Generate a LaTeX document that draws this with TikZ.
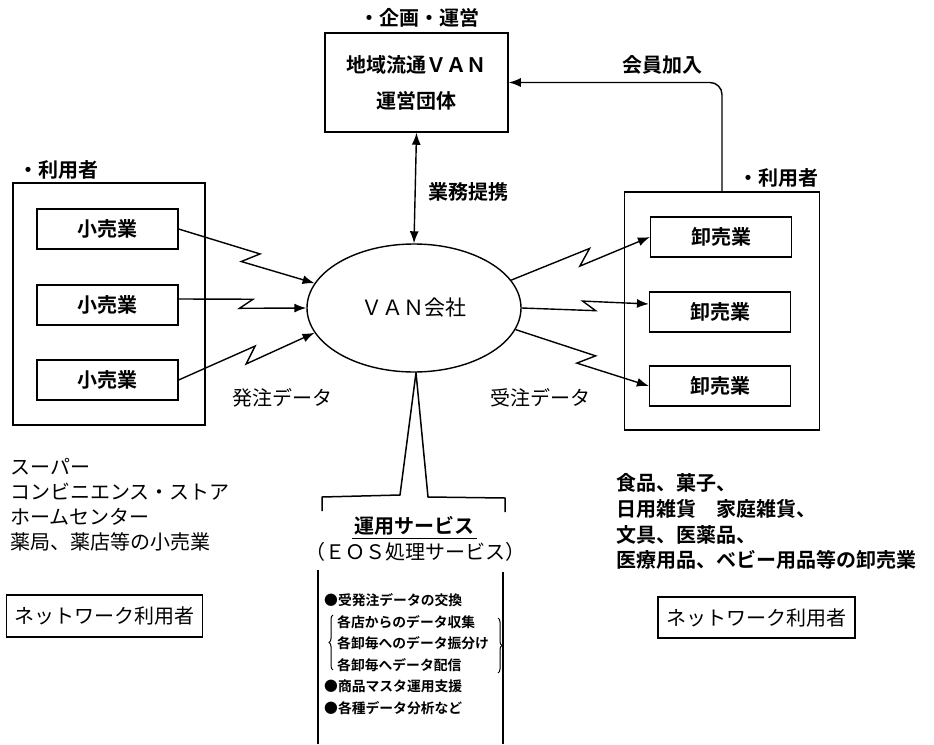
\documentclass[tikz,border=0pt]{standalone}
\usepackage{fontspec}
\setmainfont{Noto Sans CJK JP}[BoldFont={Noto Sans CJK JP Bold}]
\usetikzlibrary{shapes.geometric,calc,arrows.meta,decorations.pathreplacing}
\tikzset{
  big/.style={font=\fontsize{20}{24}\selectfont},
  bigb/.style={font=\fontsize{20}{26}\selectfont\bfseries},
  small/.style={font=\fontsize{13.8}{16}\selectfont\bfseries},
  box/.style={draw, line width=1.5pt},
  inbox/.style={draw, line width=1.2pt, minimum width=141pt, minimum height=40pt, bigb},
  arr/.style={-{Latex[length=12pt,width=9pt]}, line width=1.4pt},
  zig/.style={to path={-- ($(\tikztostart)!0.58!(\tikztotarget)!#1!90:(\tikztotarget)$)
     -- ($(\tikztostart)!0.48!(\tikztotarget)!#1!-90:(\tikztotarget)$) -- (\tikztotarget) \tikztonodes}},
}
\begin{document}
\begin{tikzpicture}[x=1pt,y=-1pt, inner sep=0pt]
\useasboundingbox (0,0) rectangle (934,744);
% top
\node[bigb] (plan) at (419,18) {・企画・運営};
\node[box, minimum width=183pt, minimum height=99pt, align=center, bigb] (top) at (416.5,82.5)
  {地域流通ＶＡＮ\\[10pt]運営団体};
% ellipse
\node[ellipse, draw, line width=1.4pt, minimum width=214pt, minimum height=128pt, font=\fontsize{21}{24}\selectfont] (van) at (414,308) {ＶＡＮ会社};
\draw[{Latex[length=12pt,width=9pt]}-{Latex[length=12pt,width=9pt]}, line width=1.4pt] (top.south) -- (van.north);
\node[bigb, anchor=west] (gyomu) at (428,192) {業務提携};
% left group
\node[box, minimum width=192pt, minimum height=242pt] (lbox) at (109,304) {};
\node[bigb, anchor=west] (luser) at (18,170) {・利用者};
\node[inbox] (l1) at (107.5,229) {小売業};
\node[inbox] (l2) at (107.5,305) {小売業};
\node[inbox] (l3) at (107.5,380) {小売業};
\draw[arr] (l1.east) to[zig=7pt] (van.166);
\draw[arr] ([yshift=6pt]l2.east) to[zig=5pt] (van.180);
\draw[arr] (l3.east) to[zig=7pt] (van.194);
\node[big] (hatchu) at (282,398) {発注データ};
% right group
\node[box, minimum width=195pt, minimum height=238pt] (rbox) at (722,311) {};
\node[bigb, anchor=west] (ruser) at (738,178) {・利用者};
\node[inbox] (r1) at (721,237) {卸売業};
\node[inbox] (r2) at (720,312) {卸売業};
\node[inbox] (r3) at (720,386) {卸売業};
\draw[arr] (van.16) to[zig=7pt] (r1.west);
\draw[arr] (van.0) to[zig=-5pt] ([yshift=8pt]r2.west);
\draw[arr] (van.-12) to[zig=7pt] (r3.west);
\node[big] (juchu) at (540,398) {受注データ};
% membership
\coordinate (up) at (722,192);
\draw[arr, rounded corners=12pt] (up) |- (top.east);
\node[bigb] (kaiin) at (662,65) {会員加入};
% bottom stem and bracket
\coordinate (sl) at (400,495);
\coordinate (sr) at (428,497);
\draw[line width=1.5pt, line join=round] (322,511) -- (322,497) -- (sl) -- ([xshift=2pt]van.south) -- (sr) -- (505,498) -- (505,512);
\node[bigb] (unyo) at (414.5,526) {運用サービス};
\draw[line width=1pt] (352,538) -- (477,538);
\node[big] (eos) at (415,552) {（ＥＯＳ処理サービス）};
\draw[line width=1.5pt] (318,570) -- (318,744);
\draw[line width=1.5pt] (503,572) -- (503,744);
\node[small, anchor=west] (s1) at (324,600) {●受発注データの交換};
\node[small, anchor=west] (s2) at (337,622) {各店からのデータ収集};
\node[small, anchor=west] (s3) at (337,643) {各卸毎へのデータ振分け};
\node[small, anchor=west] (s4) at (337,665) {各卸毎へデータ配信};
\node[small, anchor=west] (s5) at (324,686) {●商品マスタ運用支援};
\node[small, anchor=west] (s6) at (324,708) {●各種データ分析など};
\draw[decorate, decoration={brace, amplitude=4pt}, line width=1pt] (333,670) -- (333,615);
\draw[decorate, decoration={brace, amplitude=4pt}, line width=1pt] (498,618) -- (498,673);
% bottom left texts
\node[big, anchor=west] (t1) at (10,467) {スーパー};
\node[big, anchor=west] (t2) at (10,492) {コンビニエンス・ストア};
\node[big, anchor=west] (t3) at (10,517) {ホームセンター};
\node[big, anchor=west] (t4) at (10,542) {薬局、薬店等の小売業};
\node[draw, line width=1.2pt, big, minimum width=196pt, minimum height=42pt] (nl) at (104.5,616) {ネットワーク利用者};
% bottom right texts
\node[bigb, anchor=west] (u1) at (616,483) {食品、菓子、};
\node[bigb, anchor=west] (u2) at (616,509) {日用雑貨　家庭雑貨、};
\node[bigb, anchor=west] (u3) at (616,535) {文具、医薬品、};
\node[bigb, anchor=west] (u4) at (616,560) {医療用品、ベビー用品等の卸売業};
\node[draw, line width=1.2pt, big, minimum width=197pt, minimum height=41pt] (nr) at (756.5,617.5) {ネットワーク利用者};
\end{tikzpicture}
\end{document}
